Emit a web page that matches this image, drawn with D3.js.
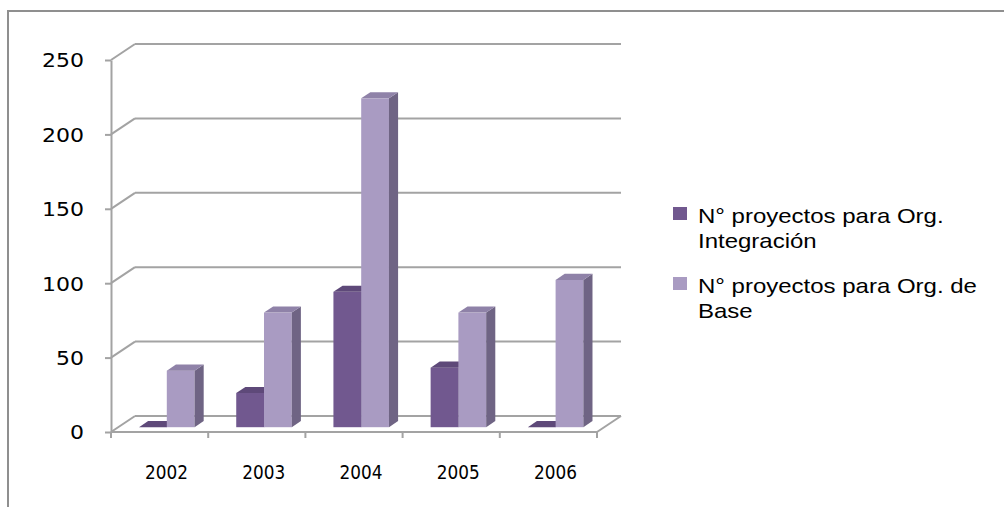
<!DOCTYPE html>
<html>
<head>
<meta charset="utf-8">
<title>Proyectos por año</title>
<script src="https://d3js.org/d3.v7.min.js"></script>
<style>
  body { margin: 0; background: #fff; }
  text { fill: #000; }
</style>
</head>
<body>
<svg width="1004" height="507"></svg>
<script>
// data
var years = ["2002", "2003", "2004", "2005", "2006"];
var seriesNames = ["N° proyectos para Org. Integración", "N° proyectos para Org. de Base"];
var integracion = [0, 23, 91, 40, 0];
var base = [38, 77, 221, 77, 99];
var yTicks = [0, 50, 100, 150, 200, 250];

var svg = d3.select("svg");

// colours: front / side / top for each series
var faces = [
  {front: "#71588f", side: "#513f68", top: "#5e4979"},
  {front: "#a99bc2", side: "#6f6484", top: "#8f82a8"}
];

// depth of the 3d box
var depthX = 24, depthY = 16;
var barZ0 = 0.3, barZ1 = 0.68;

var x = d3.scaleBand().domain(years).range([111, 597]);
var xs = d3.scaleBand().domain([0, 1]).range([0, x.bandwidth()]).paddingOuter(0.75);
var y = d3.scaleLinear().domain([0, 250]).range([432, 60]);

// outer frame (only top and left edge show in the crop)
svg.append("path")
    .attr("d", "M8,507V11H1004")
    .attr("fill", "none")
    .attr("stroke", "#8f8f8f")
    .attr("stroke-width", 2);

var grid = svg.append("g")
    .attr("stroke", "#a3a3a3")
    .attr("stroke-width", 2)
    .attr("fill", "none");

// back wall lines + side wall diagonals
grid.selectAll(".back").data(yTicks).enter().append("line")
    .attr("x1", x.range()[0] + depthX).attr("x2", x.range()[1] + depthX)
    .attr("y1", function(d) { return y(d) - depthY; })
    .attr("y2", function(d) { return y(d) - depthY; });

grid.selectAll(".side").data(yTicks).enter().append("line")
    .attr("x1", x.range()[0]).attr("x2", x.range()[0] + depthX)
    .attr("y1", function(d) { return y(d); })
    .attr("y2", function(d) { return y(d) - depthY; });

// floor right edge
grid.append("line")
    .attr("x1", x.range()[1]).attr("y1", y(0))
    .attr("x2", x.range()[1] + depthX).attr("y2", y(0) - depthY);

// y axis
var yAxis = svg.append("g")
    .attr("transform", "translate(111,0)")
    .call(d3.axisLeft(y).tickValues(yTicks).tickSize(6).tickSizeOuter(0).tickPadding(21));
yAxis.selectAll("line, path").attr("stroke", "#a3a3a3").attr("stroke-width", 2);
yAxis.selectAll("text")
    .attr("font-family", "DejaVu Sans, Verdana, sans-serif")
    .attr("font-size", 19)
    .attr("dy", "0.36em")
    .attr("fill", "#000")
    .attr("textLength", function(d) { return String(d).length * 14; })
    .attr("lengthAdjust", "spacingAndGlyphs");

// x axis front edge with ticks at the category edges
var edges = years.map(function(d) { return x(d); }).concat([x.range()[1]]);
grid.append("line")
    .attr("x1", x.range()[0]).attr("x2", x.range()[1])
    .attr("y1", y(0)).attr("y2", y(0));
grid.selectAll(".xt").data(edges).enter().append("line")
    .attr("x1", function(d) { return d; }).attr("x2", function(d) { return d; })
    .attr("y1", y(0)).attr("y2", y(0) + 6);

svg.append("g").selectAll("text").data(years).enter().append("text")
    .attr("x", function(d) { return x(d) + x.bandwidth() / 2 + 7; })
    .attr("y", 479)
    .attr("text-anchor", "middle")
    .attr("font-family", "DejaVu Sans, Verdana, sans-serif")
    .attr("font-size", 20)
    .attr("textLength", 43)
    .attr("lengthAdjust", "spacingAndGlyphs")
    .text(function(d) { return d; });

// bars
var bars = [];
years.forEach(function(yr, i) {
  [integracion[i], base[i]].forEach(function(v, s) {
    bars.push({year: yr, s: s, v: v});
  });
});

var dx0 = depthX * barZ0, dy0 = depthY * barZ0;
var ddx = depthX * (barZ1 - barZ0), ddy = depthY * (barZ1 - barZ0);

var g = svg.append("g");
bars.forEach(function(b) {
  var x0 = x(b.year) + xs(b.s) + dx0;
  var x1 = x0 + xs.bandwidth();
  var yb = y(0) - dy0;
  var yt = y(b.v) - dy0;
  var c = faces[b.s];
  if (yb - yt > 0.5) {
    g.append("rect")
        .attr("x", x0).attr("y", yt)
        .attr("width", x1 - x0).attr("height", yb - yt)
        .attr("fill", c.front);
    g.append("path")
        .attr("d", "M" + x1 + "," + yb + "L" + (x1 + ddx) + "," + (yb - ddy) +
              "L" + (x1 + ddx) + "," + (yt - ddy) + "L" + x1 + "," + yt + "Z")
        .attr("fill", c.side);
  }
  g.append("path")
      .attr("d", "M" + x0 + "," + yt + "L" + x1 + "," + yt +
            "L" + (x1 + ddx) + "," + (yt - ddy) + "L" + (x0 + ddx) + "," + (yt - ddy) + "Z")
      .attr("fill", c.top);
});

// legend
var legendLines = [["N° proyectos para Org.", "Integración"], ["N° proyectos para Org. de", "Base"]];
var legend = svg.append("g").selectAll("g").data(seriesNames).enter().append("g")
    .attr("transform", function(d, i) { return "translate(673," + (207 + i * 70) + ")"; });
legend.append("rect")
    .attr("width", 14).attr("height", 13)
    .attr("fill", function(d, i) { return faces[i].front; });
legend.append("g")
    .attr("transform", "translate(25,0) scale(1.2,1)")
  .append("text")
    .attr("y", 16)
    .attr("font-family", "Liberation Sans, Arial, sans-serif")
    .attr("font-size", 20)
    .selectAll("tspan").data(function(d, i) { return legendLines[i]; }).enter().append("tspan")
    .attr("x", 0)
    .attr("dy", function(d, j) { return j ? 25 : 0; })
    .text(function(d) { return d; });
</script>
</body>
</html>
